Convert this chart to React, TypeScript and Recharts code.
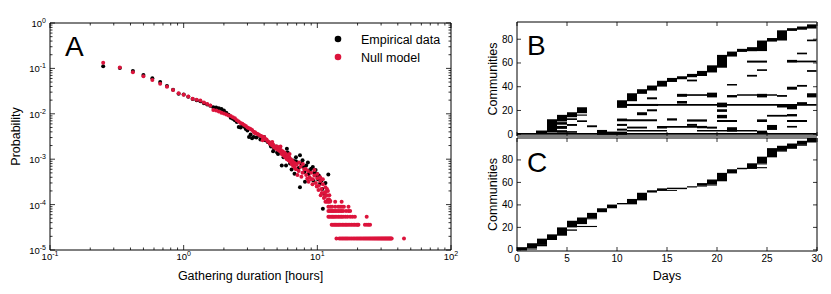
import React from 'react';
import { ScatterChart, Scatter, XAxis, YAxis, ComposedChart, ReferenceArea } from 'recharts';

const FONT = '"Liberation Sans", Arial, Helvetica, sans-serif';

// ---------- Panel A data: [duration (hours), probability] ----------
const empiricalData: [number, number][] = [
  [0.25, 0.111], [0.333, 0.102], [0.417, 0.0877], [0.5, 0.0716], [0.583, 0.0604], [0.667, 0.0501],
  [0.75, 0.041], [0.833, 0.034], [0.917, 0.0275], [1.0, 0.0265], [1.083, 0.0238], [1.167, 0.0212],
  [1.25, 0.0198], [1.333, 0.019], [1.417, 0.017], [1.5, 0.016], [1.583, 0.015], [1.667, 0.014],
  [1.75, 0.0138], [1.833, 0.0132], [1.917, 0.0128], [2.0, 0.0118], [2.083, 0.0105], [2.167, 0.0095],
  [2.25, 0.0082], [2.333, 0.0078], [2.417, 0.0072], [2.5, 0.0066], [2.583, 0.0051], [2.667, 0.005],
  [2.75, 0.0055], [2.833, 0.0052], [2.917, 0.0046], [3.0, 0.0043], [3.083, 0.0031], [3.167, 0.0035],
  [3.25, 0.0029], [3.333, 0.0031], [3.5, 0.003], [3.667, 0.0033], [3.75, 0.0027], [3.833, 0.0028],
  [4.0, 0.0031], [4.083, 0.0026], [4.25, 0.0024], [4.417, 0.0022], [4.5, 0.0019], [4.667, 0.0015],
  [4.75, 0.0017], [4.917, 0.0019], [5.0, 0.0014], [5.083, 0.0013], [5.25, 0.0016], [5.417, 0.00073],
  [5.583, 0.0011], [5.75, 0.0012], [5.833, 0.00073], [5.917, 0.0017], [6.083, 0.001], [6.25, 0.0008],
  [6.417, 0.00059], [6.583, 0.00094], [6.75, 0.00048], [6.917, 0.0011], [7.083, 0.00085], [7.25, 0.00064],
  [7.417, 0.00122], [7.417, 0.00024], [7.583, 0.0008], [7.75, 0.00095], [7.917, 0.00067], [8.083, 0.00032],
  [8.25, 0.00073], [8.5, 0.00085], [8.75, 0.00057], [9.0, 0.00062], [9.25, 0.00067], [9.333, 0.00034],
  [9.5, 0.0005], [9.75, 0.00044], [9.917, 0.00048], [10.25, 0.00044], [10.5, 0.00029], [10.75, 0.00034],
  [11.0, 0.000081], [11.25, 0.000174], [11.5, 0.0003], [12.083, 0.00046], [8.6, 0.00047], [9.7, 0.00058],
  [10.1, 0.00036], [10.9, 0.00022], [6.0, 0.0014], [6.9, 0.0009], [8.0, 0.00052],
];

const nullModelData: [number, number][] = [
  [0.25, 0.134], [0.333, 0.105], [0.417, 0.082], [0.5, 0.067], [0.583, 0.0555], [0.667, 0.046],
  [0.75, 0.0396], [0.833, 0.0335], [0.917, 0.0285], [1.0, 0.0262], [1.083, 0.024], [1.167, 0.0215],
  [1.25, 0.0205], [1.333, 0.0196], [1.417, 0.0178], [1.5, 0.0165], [1.583, 0.0152], [1.667, 0.0121],
  [1.75, 0.0118], [1.833, 0.0112], [1.917, 0.0106], [2.0, 0.0101], [2.083, 0.0097], [2.167, 0.0092],
  [2.25, 0.0089], [2.333, 0.0084], [2.417, 0.008], [2.5, 0.0072], [2.583, 0.0068], [2.667, 0.0063],
  [2.75, 0.006], [2.833, 0.0057], [2.917, 0.0054], [3.0, 0.005], [3.083, 0.0048], [3.167, 0.0046],
  [3.25, 0.0044], [3.333, 0.004], [3.417, 0.0039], [3.5, 0.0037], [3.583, 0.0036], [3.667, 0.0034],
  [3.75, 0.0033], [3.833, 0.0032], [3.917, 0.003], [4.0, 0.0031], [4.083, 0.0028], [4.167, 0.0027],
  [4.25, 0.0025], [4.333, 0.0024], [4.417, 0.0022], [4.5, 0.0023], [4.583, 0.002], [4.667, 0.0021],
  [4.75, 0.0018], [4.833, 0.0019], [4.917, 0.0017], [5.0, 0.0019], [5.083, 0.0016], [5.167, 0.0018],
  [5.25, 0.0015], [5.333, 0.0016], [5.417, 0.0013], [5.5, 0.0015], [5.583, 0.0012], [5.667, 0.0014],
  [5.75, 0.0011], [5.833, 0.0013], [5.917, 0.001], [6.0, 0.0012], [6.083, 0.00095], [6.167, 0.0011],
  [6.25, 0.00088], [6.333, 0.001], [6.417, 0.00078], [6.5, 0.00092], [6.583, 0.00072], [6.667, 0.00085],
  [6.75, 0.00066], [6.833, 0.0008], [6.917, 0.0006], [7.0, 0.00075], [7.25, 0.00055], [7.5, 0.00068],
  [7.75, 0.0005], [8.0, 0.0006], [8.25, 0.00045], [8.5, 0.00055], [8.75, 0.0004], [9.0, 0.0005],
  [9.25, 0.00036], [9.5, 0.00044], [9.75, 0.0003], [10.0, 0.00038], [10.25, 0.00026], [10.5, 0.00033],
  [10.75, 0.00022], [11.0, 0.00028], [11.25, 0.00018], [11.5, 0.00024], [11.75, 0.00016], [12.0, 0.0002],
  [12.25, 0.00013], [9.0, 0.00036], [9.5, 0.00058], [10.0, 0.00047], [10.5, 0.0004], [10.8, 0.00018],
  [11.0, 0.00036], [11.2, 0.00014], [11.5, 0.00019], [11.8, 0.00022], [12.0, 0.00013], [12.3, 0.00016],
  [12.5, 0.00012], [10.2, 0.00021], [9.2, 0.00028], [8.6, 0.00032], [7.3, 0.00085], [6.2, 0.0013],
  [7.8, 0.00078], [8.2, 0.00061], [5.3, 0.0019], [4.6, 0.0024], [3.9, 0.0026], [3.4, 0.0038],
  [7.1, 0.00045], [7.6, 0.00041], [8.4, 0.00037], [9.9, 0.00025], [10.6, 0.00016], [11.4, 0.00015],
];

// tail of the null model: discrete probability levels and the durations found on each
const nullTailLevels = [1.8e-5, 3.6e-5, 5.4e-5, 7.2e-5, 9.0e-5, 1.15e-4];
const nullTailDurations: number[][] = [
  [13.9, 14.6, 15.0, 15.4, 15.8, 16.2, 16.6, 17.0, 17.5, 18.0, 18.5, 19.0, 19.5, 20.0, 20.5, 21.0, 21.5,
    22.0, 22.5, 23.0, 23.5, 24.0, 24.5, 25.0, 25.5, 26.0, 26.5, 27.0, 27.5, 28.0, 28.5, 29.0, 29.5, 30.0,
    30.5, 31.0, 31.5, 32.0, 32.5, 33.0, 33.5, 34.0, 34.5, 35.0, 35.5, 36.0, 44.5],
  [12.8, 13.1, 13.4, 13.7, 14.0, 14.3, 14.6, 15.0, 15.4, 15.8, 16.2, 16.6, 17.0, 17.5, 18.0, 18.5, 19.0,
    19.5, 20.0, 20.3, 22.7, 23.5, 24.2, 24.8],
  [12.1, 12.4, 12.7, 13.0, 13.3, 13.6, 14.0, 14.4, 14.8, 15.2, 15.6, 16.2, 16.8, 17.6, 18.3, 19.1, 23.4],
  [12.1, 12.4, 12.7, 13.0, 13.3, 13.6, 14.0, 14.4, 14.8, 15.2, 15.6, 16.4, 17.1, 17.6],
  [12.1, 12.5, 12.9, 13.6, 14.3, 14.8, 15.3, 15.8, 17.1],
  [11.5, 11.8, 12.1, 12.4, 13.6, 15.2],
];

const logXTicks = [0.1, 0.2, 0.3, 0.4, 0.5, 0.6, 0.7, 0.8, 0.9, 1, 2, 3, 4, 5, 6, 7, 8, 9, 10, 20, 30, 40, 50, 60, 70, 80, 90, 100];
const logYTicks = [0.00001, 0.00002, 0.00003, 0.00004, 0.00005, 0.00006, 0.00007, 0.00008, 0.00009,
  0.0001, 0.0002, 0.0003, 0.0004, 0.0005, 0.0006, 0.0007, 0.0008, 0.0009,
  0.001, 0.002, 0.003, 0.004, 0.005, 0.006, 0.007, 0.008, 0.009,
  0.01, 0.02, 0.03, 0.04, 0.05, 0.06, 0.07, 0.08, 0.09,
  0.1, 0.2, 0.3, 0.4, 0.5, 0.6, 0.7, 0.8, 0.9, 1];

// ---------- Panels B and C: community blocks [startDay, endDay, lowIndex, highIndex] ----------
const dayTicks = [0, 5, 10, 15, 20, 25, 30];
const communityTicks = [0, 20, 40, 60, 80];

const panelBStaircase: number[][] = [
  [1.9, 3, 0.3, 3.1], [3, 4, 1.4, 12.6], [4, 5, 10.7, 16.3], [5, 6, 14.3, 18.5], [6, 7, 17.7, 22.7],
  [10, 11, 22.2, 28.6], [11, 12, 27.8, 34.5], [12, 13, 34, 37.9], [13, 14, 36.8, 41], [14, 15, 40.1, 45],
  [15, 16, 44, 47.4], [16, 17, 46.3, 48.8], [17, 18, 48, 50.8], [18, 19, 49, 53.3], [19, 20, 52, 58],
  [20, 21, 56, 66.8], [21, 22, 65.4, 69.6], [22, 23, 69.3, 71.9], [23, 24, 69.9, 73.3], [24, 25, 70, 78.9],
  [25, 26, 78, 81], [26, 27, 78.9, 87.5], [27, 28, 87, 89.3], [28, 29, 88, 90.7], [29, 30, 89, 92.5],
];

const panelBOther: number[][] = [
  [0, 30, -0.5, 1.0],
  [4, 5, 8, 10.2], [4, 5, 4.5, 7], [4, 5, 1.2, 3.4],
  [5, 6, 12, 13.4], [5, 6, 7, 8.6], [5, 6, 1.2, 2.6],
  [6, 7, 15.6, 16.6], [6, 7, 10.3, 11.7],
  [7, 8, 5.9, 7.5], [8, 9, 1.7, 3.6], [8, 11, -0.5, 2.2],
  [10, 11, 10.9, 13.2], [10, 11, 7, 8.7], [10, 11, 3, 4.7],
  [11, 14.1, 23.8, 25.5], [13, 14, 29.4, 31.1], [12, 13, 16, 18.5], [13, 14, 19.3, 21],
  [11, 14, 10.9, 12.6], [11, 13, 4.8, 6.4], [14, 15, 4.8, 6.4], [11, 15, 2.2, 3.6],
  [14, 30, 24, 25.4], [16, 17, 25.8, 28], [20, 21, 22.7, 26.6], [26, 27, 22.5, 25], [27, 28, 21, 24.6],
  [28, 29, 24.5, 27],
  [16, 17, 31.5, 34], [17, 20, 32.3, 33.7], [19, 20, 31, 35], [21, 22, 31, 33], [22, 26, 32.3, 33.7],
  [24, 25, 31, 34], [26, 27, 31.5, 33], [29, 30, 31, 34.5],
  [17, 18, 44.5, 46], [21, 22, 41, 42.3], [27, 28, 37.5, 40], [28, 29, 40, 41.5],
  [23, 25, 60.3, 62], [24, 25, 53.3, 54.7], [23, 24, 48.5, 50], [27, 28, 60.3, 62.6], [28, 30, 60.5, 62],
  [28, 29, 67.3, 68.7], [29, 30, 78.3, 79.7], [29, 30, 52.5, 54],
  [20, 21, 18.8, 21], [20, 21, 13.4, 16.3], [15, 16, 11.5, 13.4], [17, 19, 10.6, 12.5], [20, 22, 10.3, 12],
  [24, 25, 10.3, 12.5], [25, 27, 14.8, 16.3], [27, 28, 15, 17], [25, 26, 3.6, 7.8], [27, 28, 5.6, 7],
  [27, 29, 10.3, 12], [14, 19, 5.5, 7], [17, 18, 7, 8.7], [18, 19, 5, 7], [19, 20, 4.7, 6.4],
  [21, 22, 2.2, 5.9], [18, 24, 2.2, 3.6], [24, 25, 0.8, 3],
];

const panelCStaircase: number[][] = [
  [0, 1, -0.5, 2.4], [1, 2, 1.5, 5.9], [2, 3, 4.4, 10], [3, 4, 8.8, 13.8], [4, 5, 12.6, 20],
  [5, 6, 20, 25.9], [6, 7, 22.9, 28.8], [7, 8, 27.9, 32.9], [8, 9, 33.5, 37], [9, 10, 37, 40.3],
  [10, 11, 40.5, 41.7], [11, 12, 40.5, 45.3], [12, 13, 44, 50.8], [13, 14, 51, 53], [14, 15, 53, 54.7],
  [15, 17, 54, 55.3], [17, 18, 55.5, 56.6], [18, 19, 57, 59.4], [19, 20, 58, 62.6], [20, 21, 61, 68.5],
  [21, 22, 68, 71.7], [22, 23, 71.7, 73], [23, 24, 72, 77], [24, 25, 77, 82.9], [25, 26, 82.3, 90.5],
  [26, 27, 88, 92.6], [27, 28, 90.5, 94.6], [28, 29, 93.4, 97], [29, 30, 95.5, 99.5],
];

const panelCThin: number[][] = [
  [1, 2, 0.3, 1.3], [2, 3, 3.2, 4.4], [5, 6, 17, 18.2], [5, 8, 20.3, 21.3], [7, 8, 27.2, 28],
  [14, 16, 52.4, 53.2], [18, 19, 56.3, 57], [19, 20, 57.2, 58], [23, 25, 72.6, 73.6], [24, 25, 76, 77],
  [26, 27, 87.4, 88.1], [27, 28, 89.8, 90.5], [28, 29, 92.6, 93.4],
];

// ---------- helpers ----------
const toPoints = (arr: [number, number][]) => arr.map(([x, y]) => ({ x, y }));
const empiricalPoints = toPoints(empiricalData);
const nullPoints = [
  ...toPoints(nullModelData),
  ...nullTailLevels.flatMap((lvl, i) => nullTailDurations[i].map((x) => ({ x, y: lvl }))),
];

const isPow10 = (v: number) => Math.abs(Math.log10(v) - Math.round(Math.log10(v))) < 1e-6;

const LogTick = (props: any) => {
  const { x, y, payload, side } = props;
  const v = payload.value;
  const major = isPow10(v);
  const len = major ? 5 : 2.5;
  const exp = String(Math.round(Math.log10(v)));
  if (side === 'bottom') {
    return (
      <g>
        <line x1={x} y1={y} x2={x} y2={y - len} stroke="#000" strokeWidth={0.8} />
        {major && (
          <text x={x} y={y + 10} textAnchor="middle" fontSize={9.5} fontFamily={FONT} fill="#000">
            10<tspan dy={-4} fontSize={7}>{exp}</tspan>
          </text>
        )}
      </g>
    );
  }
  if (side === 'top') return <line x1={x} y1={y} x2={x} y2={y + len} stroke="#000" strokeWidth={0.8} />;
  if (side === 'left') {
    return (
      <g>
        <line x1={x} y1={y} x2={x + len} y2={y} stroke="#000" strokeWidth={0.8} />
        {major && (
          <text x={x - 4} y={y + 4} textAnchor="end" fontSize={9.5} fontFamily={FONT} fill="#000">
            10<tspan dy={-4} fontSize={7}>{exp}</tspan>
          </text>
        )}
      </g>
    );
  }
  return <line x1={x} y1={y} x2={x - len} y2={y} stroke="#000" strokeWidth={0.8} />;
};

const LinTick = (props: any) => {
  const { x, y, payload, side, showLabel } = props;
  const v = payload.value;
  const len = 4;
  if (side === 'bottom') {
    return (
      <g>
        <line x1={x} y1={y} x2={x} y2={y - len} stroke="#000" strokeWidth={0.8} />
        {showLabel && (
          <text x={x} y={y + 11} textAnchor="middle" fontSize={10} fontFamily={FONT} fill="#000">{v}</text>
        )}
      </g>
    );
  }
  if (side === 'top') return <line x1={x} y1={y} x2={x} y2={y + len} stroke="#000" strokeWidth={0.8} />;
  if (side === 'left') {
    return (
      <g>
        <line x1={x} y1={y} x2={x + len} y2={y} stroke="#000" strokeWidth={0.8} />
        {showLabel && (
          <text x={x - 4} y={y + 3.5} textAnchor="end" fontSize={10} fontFamily={FONT} fill="#000">{v}</text>
        )}
      </g>
    );
  }
  return <line x1={x} y1={y} x2={x - len} y2={y} stroke="#000" strokeWidth={0.8} />;
};

const dot = (fill: string) => (p: any) => <circle cx={p.cx} cy={p.cy} r={2} fill={fill} />;
const noShape = () => <g />;

const RED = '#dc143c';
const abs = (style: React.CSSProperties): React.CSSProperties => ({ position: 'absolute', left: 0, top: 0, ...style });

const CommunityPanel = ({ top, bottom, domain, blocks, xLabels }: any) => {
  const corners = blocks.flatMap((s: number[]) => [{ day: s[0], v: s[2] }, { day: s[1], v: s[3] }]);
  return (
    <div style={abs({})}>
      <ComposedChart width={831} height={294} margin={{ top: top - 1, right: 13, bottom: bottom - 1, left: 516 }}>
        <XAxis xAxisId="b" dataKey="day" type="number" domain={[0, 30]} ticks={dayTicks} interval={0} height={1} tickSize={0}
          tickMargin={0} allowDataOverflow axisLine={{ stroke: '#000' }}
          tick={(p: any) => <LinTick {...p} side="bottom" showLabel={xLabels} />} />
        <XAxis xAxisId="t" dataKey="day" orientation="top" type="number" domain={[0, 30]} ticks={dayTicks} interval={0} height={1}
          tickSize={0} tickMargin={0} allowDataOverflow axisLine={{ stroke: '#000' }}
          tick={(p: any) => <LinTick {...p} side="top" />} />
        <YAxis yAxisId="l" dataKey="v" type="number" domain={domain} ticks={communityTicks} interval={0} width={1} tickSize={0}
          tickMargin={0} allowDataOverflow axisLine={{ stroke: '#000' }}
          tick={(p: any) => <LinTick {...p} side="left" showLabel />} />
        <YAxis yAxisId="r" dataKey="v" orientation="right" type="number" domain={domain} ticks={communityTicks} interval={0}
          width={1} tickSize={0} tickMargin={0} allowDataOverflow axisLine={{ stroke: '#555', strokeWidth: 1.5 }}
          tick={(p: any) => <LinTick {...p} side="right" />} />
        <Scatter xAxisId="b" yAxisId="l" data={corners} shape={noShape} isAnimationActive={false} />
        <Scatter xAxisId="t" yAxisId="r" data={corners} shape={noShape} isAnimationActive={false} />
        {blocks.map((s: number[], i: number) => (
          <ReferenceArea key={i} xAxisId="b" yAxisId="l" x1={s[0]} x2={s[1]} y1={s[2]} y2={s[3]}
            fill="#000" fillOpacity={1} stroke="none" ifOverflow="hidden" />
        ))}
      </ComposedChart>
    </div>
  );
};

export default function App() {
  return (
    <div style={{ position: 'absolute', left: 0, top: 0, width: 831, height: 294, background: '#fff', fontFamily: FONT }}>
      <div style={abs({})}>
        <ScatterChart width={831} height={294} margin={{ top: 22, right: 379, bottom: 43, left: 49 }}>
          <XAxis xAxisId="b" type="number" dataKey="x" scale="log" domain={[0.1, 100]} ticks={logXTicks} interval={0}
            height={1} tickSize={0} tickMargin={0} allowDataOverflow axisLine={{ stroke: '#000' }}
            tick={(p: any) => <LogTick {...p} side="bottom" />} />
          <XAxis xAxisId="t" orientation="top" type="number" dataKey="x" scale="log" domain={[0.1, 100]} ticks={logXTicks}
            interval={0} height={1} tickSize={0} tickMargin={0} allowDataOverflow axisLine={{ stroke: '#000' }}
            tick={(p: any) => <LogTick {...p} side="top" />} />
          <YAxis yAxisId="l" type="number" dataKey="y" scale="log" domain={[0.00001, 1]} ticks={logYTicks} interval={0}
            width={1} tickSize={0} tickMargin={0} allowDataOverflow axisLine={{ stroke: '#000' }}
            tick={(p: any) => <LogTick {...p} side="left" />} />
          <YAxis yAxisId="r" orientation="right" type="number" dataKey="y" scale="log" domain={[0.00001, 1]}
            ticks={logYTicks} interval={0} width={1} tickSize={0} tickMargin={0} allowDataOverflow
            axisLine={{ stroke: '#000' }} tick={(p: any) => <LogTick {...p} side="right" />} />
          <Scatter xAxisId="b" yAxisId="l" data={empiricalPoints} fill="#000" shape={dot('#000')} isAnimationActive={false} />
          <Scatter xAxisId="b" yAxisId="l" data={nullPoints} fill={RED} shape={dot(RED)} isAnimationActive={false} />
        </ScatterChart>
      </div>
      <CommunityPanel top={22} bottom={158} domain={[-1.5, 94.5]} blocks={[...panelBOther, ...panelBStaircase]} xLabels={false} />
      <CommunityPanel top={138} bottom={43} domain={[-1, 99.5]} blocks={[...panelCThin, ...panelCStaircase]} xLabels />
      <svg width={831} height={294} style={abs({ pointerEvents: 'none' })} fontFamily={FONT}>
        <text x={65} y={56} fontSize={28} fill="#000">A</text>
        <text x={527} y={55} fontSize={28} fill="#000">B</text>
        <text x={527} y={172} fontSize={28} fill="#000">C</text>
        <circle cx={338} cy={39} r={3.3} fill="#000" />
        <text x={361} y={43.5} fontSize={12.5} fill="#000">Empirical data</text>
        <circle cx={338} cy={57} r={3.3} fill={RED} />
        <text x={361} y={61.5} fontSize={12.5} fill="#000">Null model</text>
        <text x={250.5} y={280} fontSize={12.5} textAnchor="middle" fill="#000">Gathering duration [hours]</text>
        <text transform="translate(20,136.5) rotate(-90)" fontSize={12.5} textAnchor="middle" fill="#000">Probability</text>
        <text transform="translate(497,79) rotate(-90)" fontSize={12.5} textAnchor="middle" fill="#000">Communities</text>
        <text transform="translate(497,194.5) rotate(-90)" fontSize={12.5} textAnchor="middle" fill="#000">Communities</text>
        <text x={667} y={280} fontSize={12.5} textAnchor="middle" fill="#000">Days</text>
      </svg>
    </div>
  );
}
